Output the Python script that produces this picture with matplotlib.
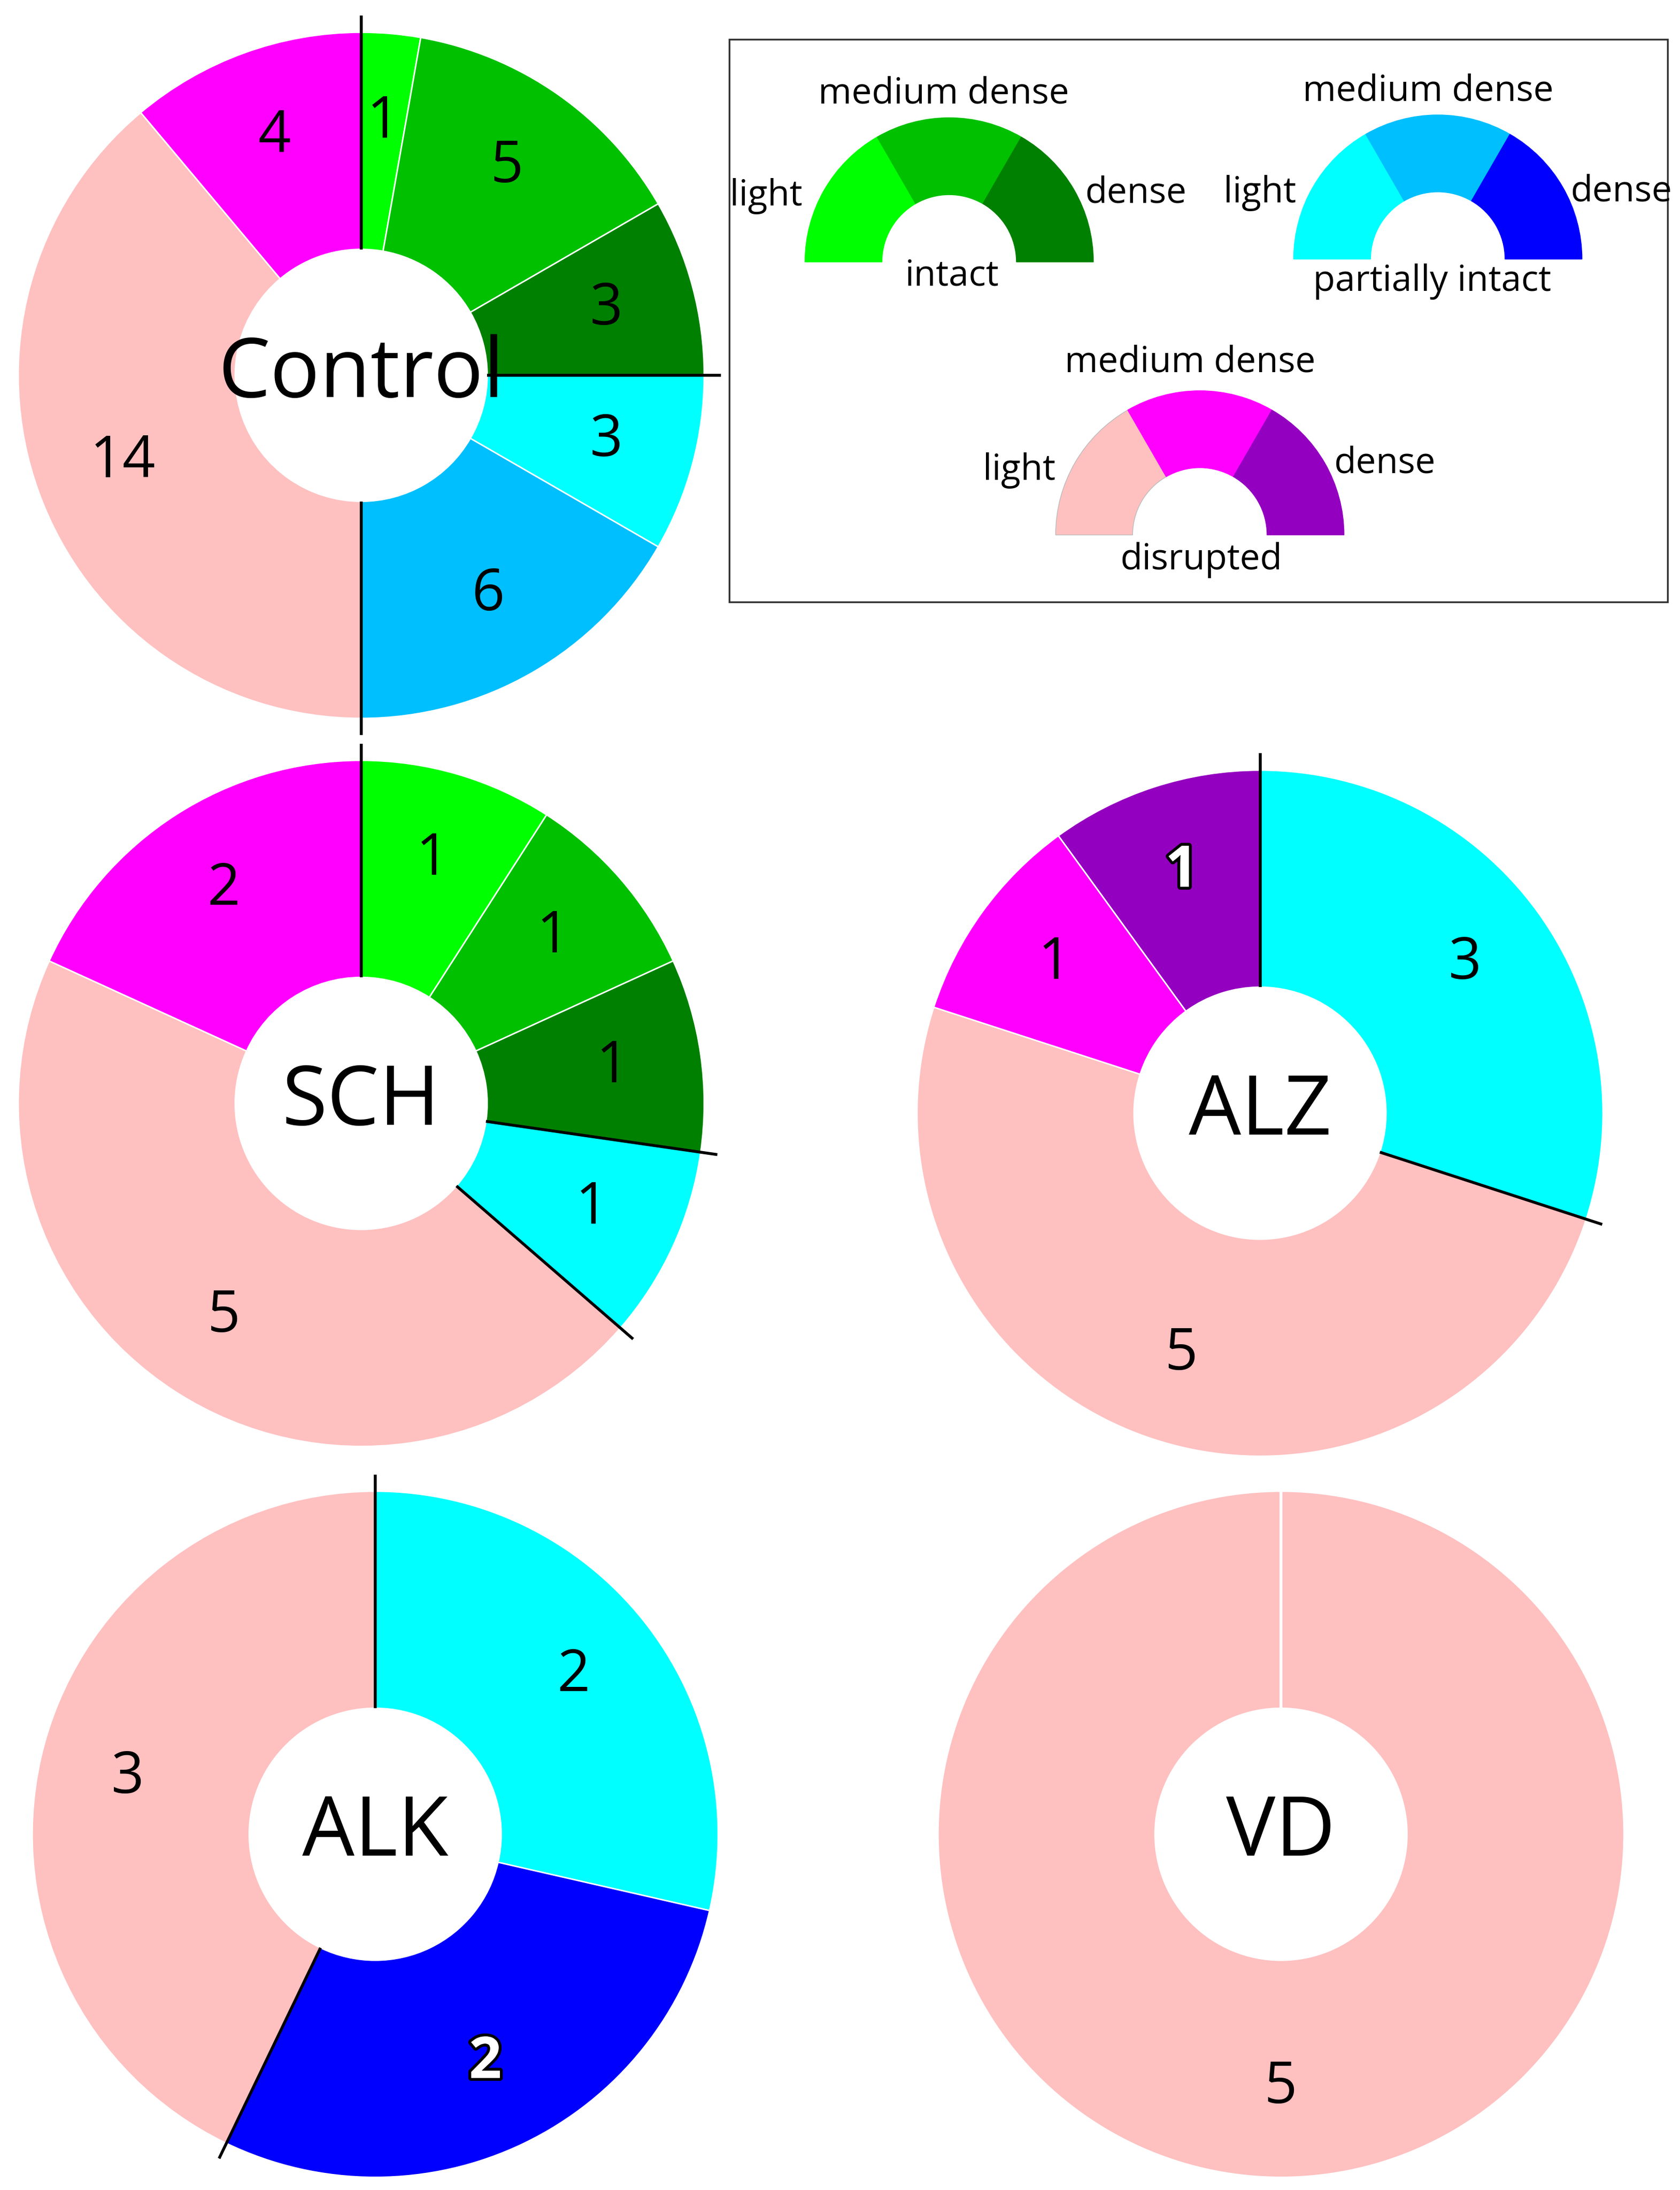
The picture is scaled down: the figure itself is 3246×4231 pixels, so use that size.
import numpy as np
import matplotlib
matplotlib.use("Agg")
import matplotlib.pyplot as plt
from matplotlib.patches import Wedge, Rectangle
import matplotlib.patheffects as pe

plt.rcParams['font.family'] = ['Open Sans', 'DejaVu Sans']

LG, MG, DG = '#00FF00', '#00C000', '#008000'
LB, MB, DB = '#00FFFF', '#00BFFF', '#0000FF'
LP, MP, DP = '#FFC0C0', '#FF00FF', '#9400C0'

groups = ['Control', 'SCH', 'ALZ', 'ALK', 'VD']
control_vals = [1, 5, 3, 3, 6, 14, 4]
control_cols = [LG, MG, DG, LB, MB, LP, MP]
sch_vals = [1, 1, 1, 1, 5, 2]
sch_cols = [LG, MG, DG, LB, LP, MP]
alz_vals = [3, 5, 1, 1]
alz_cols = [LB, LP, MP, DP]
alk_vals = [2, 2, 3]
alk_cols = [LB, DB, LP]
vd_vals = [5]
vd_cols = [LP]
# indices of boundaries (cumulative count) drawn as black lines
control_lines = [0, 9, 18]
sch_lines = [0, 3, 4]
alz_lines = [0, 3]
alk_lines = [0, 4]
vd_lines = []
outlined = {'ALZ': [3], 'ALK': [1]}

H = 1564.0
fig = plt.figure(figsize=(32.46, 42.31), dpi=100)
ax = fig.add_axes([0, 0, 1, 1])
ax.set_xlim(0, 1200)
ax.set_ylim(0, H)
ax.set_aspect('equal')
ax.axis('off')

R, RIN = 245, 90
specs = [
    ('Control', control_vals, control_cols, control_lines, (258, 268)),
    ('SCH', sch_vals, sch_cols, sch_lines, (258, 788)),
    ('ALZ', alz_vals, alz_cols, alz_lines, (900, 795)),
    ('ALK', alk_vals, alk_cols, alk_lines, (268, 1310)),
    ('VD', vd_vals, vd_cols, vd_lines, (915, 1310)),
]
for name, vals, cols, lines, (cx, cy) in specs:
    c = (cx, H - cy)
    ax.pie(vals, colors=cols, startangle=90, counterclock=False, radius=R,
           center=c, frame=True,
           wedgeprops=dict(width=R - RIN, edgecolor='white', linewidth=2))
    tot = sum(vals)
    cum = np.cumsum([0] + vals)
    for i, v in enumerate(vals):
        if tot == 1 or len(vals) == 1:
            ang = np.deg2rad(-90)
        else:
            mid = (cum[i] + cum[i + 1]) / 2 / tot
            ang = np.deg2rad(90 - 360 * mid)
        rr = 0.74 * R
        tx, ty = c[0] + rr * np.cos(ang), c[1] + rr * np.sin(ang)
        if i in outlined.get(name, []):
            ax.text(tx, ty, str(v), fontsize=80, ha='center', va='center', color='white',
                    fontweight='bold',
                    path_effects=[pe.withStroke(linewidth=8, foreground='black')])
        else:
            ax.text(tx, ty, str(v), fontsize=80, ha='center', va='center', color='black')
    for b in lines:
        ang = np.deg2rad(90 - 360 * b / tot)
        r0, r1 = RIN, R + 12
        ax.plot([c[0] + r0 * np.cos(ang), c[0] + r1 * np.cos(ang)],
                [c[1] + r0 * np.sin(ang), c[1] + r1 * np.sin(ang)], color='black', lw=4,
                solid_capstyle='butt')
    if name == 'VD':
        ax.plot([c[0], c[0]], [c[1] + RIN, c[1] + R], color='white', lw=4)
    ax.text(c[0], c[1], name, fontsize=115, ha='center', va='center', color='black')

# legend box
ax.add_patch(Rectangle((521, H - 430), 670, 402, fill=False, edgecolor='#333333', lw=2.5))
legend_items = [
    ((678, 187), [LG, MG, DG], 'intact',
     [(674, 67), (547, 140), (811, 138), (680, 197)]),
    ((1027, 185), [LB, MB, DB], 'partially intact',
     [(1020, 65), (900, 138), (1158, 137), (1023, 201)]),
    ((857, 382), [LP, MP, DP], 'disrupted',
     [(850, 259), (728, 336), (989, 331), (858, 400)]),
]
for (cx, cy), cols, title, pos in legend_items:
    for k, col in enumerate(cols):
        a1 = 180 - 60 * k
        a0 = a1 - 60
        ax.add_patch(Wedge((cx, H - cy), 103, a0, a1, width=55, facecolor=col,
                           edgecolor='#BBBBBB' if col == LP else col, lw=1))
    for t, (x, y) in zip(['medium dense', 'light', 'dense', title], pos):
        ax.text(x, H - y, t, fontsize=50, ha='center', va='center', color='black')

fig.savefig('out.png', dpi=100)
